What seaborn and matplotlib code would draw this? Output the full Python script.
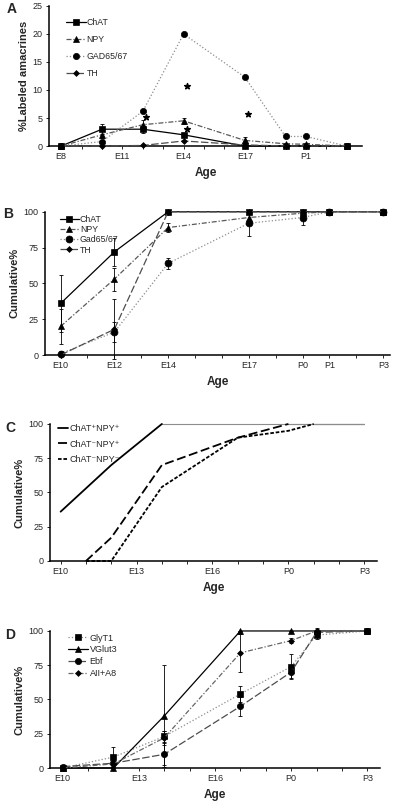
import numpy as np
import pandas as pd
import matplotlib
matplotlib.use('Agg')
import matplotlib.pyplot as plt
import seaborn as sns

sns.set_style('white')
plt.rcParams['font.family'] = ['Liberation Sans', 'DejaVu Sans']

# day axis shared by all panels (one tick per day)
days = ['E8', 'E9', 'E10', 'E11', 'E12', 'E13', 'E14', 'E15', 'E16', 'E17', 'E18',
        'P0', 'P1', 'P2', 'P3']

# ---- panel A: % labeled amacrines
ages_a = ['E8', 'E10', 'E12', 'E14', 'E17', 'P0', 'P1', 'P3']
chat_a = [0, 3.0, 3.0, 2.0, 0, 0, 0, 0]
npy_a = [0, 2.0, 3.8, 4.5, 1.0, 0.4, 0.3, 0]
gad_a = [0, 0.8, 6.2, 20.0, 12.3, 1.7, 1.7, 0]
th_a = [0, 0, 0.1, 0.9, 0.2, 0, 0, 0]
chat_a_err = [0, 0.9, 0.6, 0.4, 0, 0, 0, 0]
npy_a_err = [0, 0.6, 0.8, 0.5, 0.6, 0, 0, 0]
star_ages = ['E12', 'E14', 'E14', 'E17']
star_vals = [5.2, 10.7, 3.1, 5.8]
ticks_a = ['E8', 'E11', 'E14', 'E17', 'P1']

# ---- panel B: cumulative %
ages_b = ['E10', 'E12', 'E14', 'E17', 'P0', 'P1', 'P3']
chat_b = [36, 72, 100, 100, 100, 100, 100]
npy_b = [20, 53, 89, 96, 99, 100, 100]
gad_b = [1, 16, 64, 92, 96, 100, 100]
th_b = [0, 18, 100, 100, 100, 100, 100]
chat_b_err = [20, 10, 0, 0, 0, 0, 0]
npy_b_err = [12, 8, 3, 4, 1, 0, 0]
gad_b_err = [2, 7, 4, 9, 5, 0, 0]
th_b_err = [1, 21, 0, 0, 0, 0, 0]
ticks_b = ['E10', 'E12', 'E14', 'E17', 'P0', 'P1', 'P3']

# ---- panel C: cumulative % by ChAT/NPY class
ages_c = ['E10', 'E11', 'E12', 'E14', 'E17', 'P0', 'P1', 'P3']
cpnp_c = [36, np.nan, 70, 100, 100, 100, 100, 100]
cmnp_c = [np.nan, 0, 17, 70, 90, 100, 100, 100]
cmnm_c = [np.nan, 0, 0, 54, 90, 95, 100, 100]
ticks_cd = ['E10', 'E13', 'E16', 'P0', 'P3']

# ---- panel D
ages_d = ['E10', 'E12', 'E14', 'E17', 'P0', 'P1', 'P3']
glyt1_d = [0, 8, 23, 54, 74, 97, 100]
vglut3_d = [0, 0, 38, 100, 100, 100, 100]
ebf_d = [1, 3.5, 10, 45, 70, 99, 100]
aii_d = [0, 3, 22, 84, 93, 100, 100]
glyt1_d_err = [1, 7, 4, 6, 9, 3, 0]
vglut3_d_err = [0, 0, 37, 0, 0, 0, 0]
ebf_d_err = [1, 2, 8, 7, 4, 2, 0]
aii_d_err = [0, 2, 5, 14, 2, 2, 0]


def pos(ages):
    return np.array([days.index(a) for a in ages], dtype=float)


def series(ax, ages, vals, label, marker, ls, color='k', ms=4.5, err=None, lw=0.9):
    x = pos(ages)
    y = np.array(vals, dtype=float)
    ok = ~np.isnan(y)
    sns.lineplot(x=x[ok], y=y[ok], ax=ax, label=label, color=color, linestyle=ls, lw=lw,
                 marker=marker, markersize=ms, markerfacecolor='k', markeredgecolor='k',
                 markeredgewidth=0.5, clip_on=False, zorder=3)
    if err is not None:
        ax.errorbar(x, y, yerr=err, fmt='none', ecolor='k', elinewidth=0.6,
                    capsize=1.5, capthick=0.6, zorder=2, clip_on=False)


def style_axes(ax, xlim, ylim, yticks, ticks, ylabel):
    ax.set_xlim(*xlim)
    ax.set_ylim(*ylim)
    ax.set_yticks(yticks)
    ax.set_xticks(pos(ticks))
    ax.set_xticklabels(ticks)
    minor = [i for i in range(len(days)) if xlim[0] <= i <= xlim[1]]
    ax.set_xticks(minor, minor=True)
    ax.tick_params(axis='both', which='major', labelsize=6.5, length=2.5, width=0.7,
                   direction='out', pad=2, bottom=True, left=True)
    ax.tick_params(axis='x', which='minor', length=2.5, width=0.7, direction='out',
                   bottom=True)
    for s in ['top', 'right']:
        ax.spines[s].set_visible(False)
    for s in ['left', 'bottom']:
        ax.spines[s].set_linewidth(1.1)
        ax.spines[s].set_color('k')
    ax.set_xlabel('Age', fontsize=8.5, fontweight='bold', labelpad=4)
    ax.set_ylabel(ylabel, fontsize=8, fontweight='bold', labelpad=3)


fig = plt.figure(figsize=(4.0, 8.08), dpi=100)

# panel letters
for letter, lx, ly in [('A', 12, 9), ('B', 8, 214), ('C', 10, 428), ('D', 10, 635)]:
    fig.text(lx / 400, 1 - ly / 808, letter, fontsize=10, fontweight='bold',
             ha='center', va='center')

# ---------- A
axA = fig.add_axes([0.1225, 0.8193, 0.7825, 0.1733])
series(axA, ages_a, chat_a, 'ChAT', 's', '-', err=chat_a_err)
series(axA, ages_a, npy_a, 'NPY', '^', (0, (4, 1.5, 1, 1.5)), color='0.35', err=npy_a_err)
series(axA, ages_a, gad_a, 'GAD65/67', 'o', ':', color='0.55')
series(axA, ages_a, th_a, 'TH', 'D', (0, (6, 2)), color='0.3', ms=3)
axA.scatter(pos(star_ages) + 0.15, star_vals, marker='*', s=18, color='k', zorder=4)
style_axes(axA, (-0.6, 14.75), (0, 25), [0, 5, 10, 15, 20, 25], ticks_a,
           '%Labeled amacrines')
axA.legend(loc='upper left', bbox_to_anchor=(0.03, 0.97), frameon=False, fontsize=6.3,
           labelspacing=0.9, handlelength=2.2, handletextpad=0.1)

# ---------- B
axB = fig.add_axes([0.1125, 0.5606, 0.8625, 0.1773])
series(axB, ages_b, chat_b, 'ChAT', 's', '-', ms=5, err=chat_b_err)
series(axB, ages_b, npy_b, 'NPY', '^', (0, (4, 1.5, 1, 1.5)), color='0.35', err=npy_b_err)
series(axB, ages_b, gad_b, 'Gad65/67', 'o', ':', color='0.55', ms=5, err=gad_b_err)
series(axB, ages_b, th_b, 'TH', 'D', (0, (6, 2)), color='0.3', ms=3, err=th_b_err)
style_axes(axB, (1.42, 14.25), (0, 100), [0, 25, 50, 75, 100], ticks_b, 'Cumulative%')
axB.legend(loc='upper left', bbox_to_anchor=(0.02, 1.03), frameon=False, fontsize=6.3,
           labelspacing=0.12, handlelength=2.2, handletextpad=0.1)

# ---------- C
axC = fig.add_axes([0.125, 0.3057, 0.8175, 0.1696])
c_series = [(cpnp_c, 'ChAT\u207aNPY\u207a', '-'),
            (cmnp_c, 'ChAT\u207bNPY\u207a', (0, (5, 2))),
            (cmnm_c, 'ChAT\u207bNPY\u207b', (0, (2, 1)))]
for vals, label, ls in c_series:
    y = np.array(vals, dtype=float)
    full = int(np.nanargmax(y >= 100))
    head = np.where(np.arange(len(y)) <= full, y, np.nan)
    tail = np.where(np.arange(len(y)) >= full, y, np.nan)
    series(axC, ages_c, head, label, None, ls, lw=1.3)
    x = pos(ages_c)
    ok = ~np.isnan(tail)
    sns.lineplot(x=x[ok], y=tail[ok], ax=axC, color='0.55', lw=0.8, clip_on=False,
                 zorder=1)
style_axes(axC, (1.58, 14.5), (0, 100), [0, 25, 50, 75, 100], ticks_cd, 'Cumulative%')
h, l = axC.get_legend_handles_labels()
axC.legend(h[:3], l[:3], loc='upper left', bbox_to_anchor=(0.0, 1.06), frameon=False,
           fontsize=6.5, labelspacing=0.75, handlelength=1.1, handletextpad=0.2)

# ---------- D
axD = fig.add_axes([0.125, 0.0495, 0.825, 0.1696])
series(axD, ages_d, glyt1_d, 'GlyT1', 's', ':', color='0.55', err=glyt1_d_err)
series(axD, ages_d, vglut3_d, 'VGlut3', '^', '-', err=vglut3_d_err)
series(axD, ages_d, ebf_d, 'Ebf', 'o', (0, (6, 2)), color='0.3', err=ebf_d_err)
series(axD, ages_d, aii_d, 'AII+A8', 'D', (0, (4, 1.5, 1, 1.5)), color='0.4', ms=3,
       err=aii_d_err)
style_axes(axD, (1.5, 14.5), (0, 100), [0, 25, 50, 75, 100], ticks_cd, 'Cumulative%')
axD.legend(loc='upper left', bbox_to_anchor=(0.03, 1.04), frameon=False, fontsize=6.5,
           labelspacing=0.3, handlelength=2.2, handletextpad=0.2)

fig.savefig('out.png', dpi=100)
